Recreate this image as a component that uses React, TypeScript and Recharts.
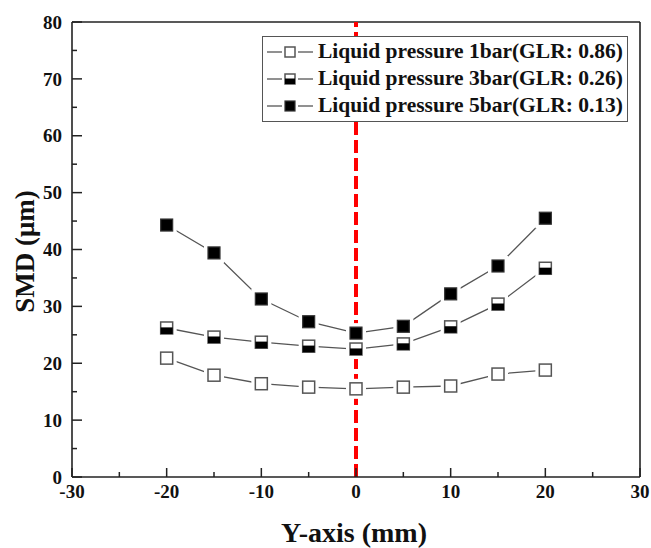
import { Line, LineChart, ReferenceLine, XAxis, YAxis } from "recharts";

const positions = [-20, -15, -10, -5, 0, 5, 10, 15, 20];
const smd1bar = [20.9, 17.9, 16.4, 15.8, 15.5, 15.8, 16.0, 18.1, 18.8];
const smd3bar = [26.2, 24.6, 23.7, 23.0, 22.5, 23.4, 26.4, 30.4, 36.7];
const smd5bar = [44.3, 39.4, 31.3, 27.3, 25.3, 26.5, 32.2, 37.1, 45.5];

const xTicks = [-30, -25, -20, -15, -10, -5, 0, 5, 10, 15, 20, 25, 30];
const yTicks = [0, 5, 10, 15, 20, 25, 30, 35, 40, 45, 50, 55, 60, 65, 70, 75, 80];

const legendLabels = [
  "Liquid pressure 1bar(GLR: 0.86)",
  "Liquid pressure 3bar(GLR: 0.26)",
  "Liquid pressure 5bar(GLR: 0.13)",
];

const rows = positions.map((p, i) => ({ pos: p, p1: smd1bar[i], p3: smd3bar[i], p5: smd5bar[i] }));

const FONT = "'Liberation Serif', 'Times New Roman', serif";
const AXIS = "#222";
const LINE = "#555";

type Kind = "open" | "half" | "full";

function marker(kind: Kind, cx: number, cy: number, s: number, key?: string | number) {
  const h = s / 2;
  if (kind === "open")
    return <rect key={key} x={cx - h} y={cy - h} width={s} height={s} fill="#fff" stroke={LINE} strokeWidth={1.5} />;
  if (kind === "full")
    return <rect key={key} x={cx - h} y={cy - h} width={s} height={s} fill="#000" stroke="#333" strokeWidth={1.2} />;
  return (
    <g key={key}>
      <rect x={cx - h} y={cy - h} width={s} height={s} fill="#fff" stroke={LINE} strokeWidth={1.5} />
      <rect x={cx - h} y={cy - s * 0.05} width={s} height={h + s * 0.05} fill="#000" />
    </g>
  );
}

const haloDot = (p: any) => (
  <rect key={"h" + p.index} x={p.cx - 10} y={p.cy - 10} width={20} height={20} fill="#fff" />
);
const markDot = (kind: Kind) => (p: any) => marker(kind, p.cx, p.cy, 12, "m" + p.index);

const XTick = (props: any) => {
  const { x, y, payload } = props;
  const major = payload.value % 10 === 0;
  const axisY = y - 8;
  return (
    <g>
      <line x1={x} x2={x} y1={axisY} y2={axisY - (major ? 9 : 5)} stroke={AXIS} strokeWidth={1.5} />
      {major && (
        <text x={x} y={y} dy="0.71em" textAnchor="middle" fontFamily={FONT} fontWeight="bold" fontSize={19} fill="#111">
          {payload.value}
        </text>
      )}
    </g>
  );
};

const YTick = (props: any) => {
  const { x, y, payload } = props;
  const major = payload.value % 10 === 0;
  const axisX = x + 10;
  return (
    <g>
      <line x1={axisX} x2={axisX + (major ? 10 : 5)} y1={y} y2={y} stroke={AXIS} strokeWidth={1.5} />
      {major && (
        <text x={x} y={y} dy="0.35em" textAnchor="end" fontFamily={FONT} fontWeight="bold" fontSize={19} fill="#111">
          {payload.value}
        </text>
      )}
    </g>
  );
};

const kinds: Kind[] = ["open", "half", "full"];

const LegendBox = () => (
  <div
    style={{
      position: "absolute",
      left: 262,
      top: 36,
      width: 362,
      border: "1.5px solid #555",
      background: "#fff",
      padding: "1px 0 2px 2px",
      fontFamily: FONT,
      fontWeight: "bold",
      fontSize: 21.5,
      lineHeight: "27px",
      color: "#111",
    }}
  >
    {legendLabels.map((label, i) => (
      <div key={label} style={{ display: "flex", alignItems: "center", height: 27 }}>
        <svg width={51} height={27} style={{ flex: "none" }}>
          <line x1={2} x2={17} y1={14} y2={14} stroke={LINE} strokeWidth={1.3} />
          <line x1={33} x2={48} y1={14} y2={14} stroke={LINE} strokeWidth={1.3} />
          {marker(kinds[i], 25, 14, 10)}
        </svg>
        <span style={{ whiteSpace: "nowrap", marginLeft: 2 }}>{label}</span>
      </div>
    ))}
  </div>
);

const keys = ["p1", "p3", "p5"];

export default function App() {
  return (
    <div style={{ position: "absolute", left: 0, top: 0, width: 651, height: 548, background: "#fff" }}>
      <LineChart width={651} height={548} data={rows} margin={{ top: 22, right: 11, bottom: 0, left: 0 }}>
        <XAxis
          type="number"
          dataKey="pos"
          domain={[-30, 30]}
          ticks={xTicks}
          interval={0}
          height={71}
          tickSize={0}
          tickMargin={8}
          tickLine={false}
          tick={<XTick />}
          axisLine={{ stroke: AXIS, strokeWidth: 1.6 }}
          label={{
            value: "Y-axis (mm)",
            position: "insideBottom",
            offset: 6,
            dx: -2,
            style: { fontFamily: FONT, fontWeight: "bold", fontSize: 28, fill: "#111" },
          }}
        />
        <YAxis
          type="number"
          domain={[0, 80]}
          ticks={yTicks}
          interval={0}
          width={72}
          tickSize={0}
          tickMargin={10}
          tickLine={false}
          tick={<YTick />}
          axisLine={{ stroke: AXIS, strokeWidth: 1.6 }}
          label={{
            value: "SMD (μm)",
            angle: -90,
            position: "insideLeft",
            offset: 24,
            dy: 2,
            style: { textAnchor: "middle", fontFamily: FONT, fontWeight: "bold", fontSize: 27, fill: "#111" },
          }}
        />
        <ReferenceLine y={80} stroke={AXIS} strokeWidth={1.6} />
        <ReferenceLine x={30} stroke={AXIS} strokeWidth={1.6} />
        {keys.map((k) => (
          <Line key={"c" + k} dataKey={k} stroke={LINE} strokeWidth={1.3} dot={false} isAnimationActive={false} legendType="none" />
        ))}
        {keys.map((k) => (
          <Line key={"h" + k} dataKey={k} stroke="none" strokeWidth={0} dot={haloDot} activeDot={false} isAnimationActive={false} legendType="none" />
        ))}
        <ReferenceLine x={0} stroke="#ff0000" strokeWidth={4} strokeDasharray="13 5" />
        {keys.map((k, i) => (
          <Line key={"m" + k} dataKey={k} stroke="none" strokeWidth={0} dot={markDot(kinds[i])} activeDot={false} isAnimationActive={false} legendType="none" />
        ))}
      </LineChart>
      <LegendBox />
    </div>
  );
}
